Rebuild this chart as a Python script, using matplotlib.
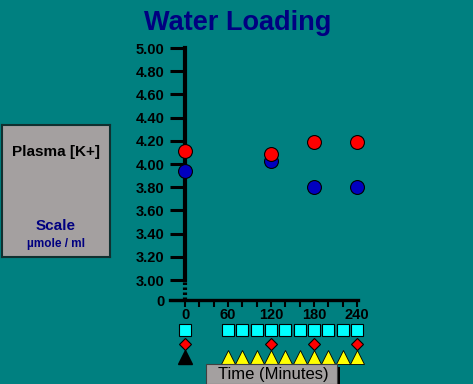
import matplotlib
matplotlib.use("Agg")
import matplotlib.pyplot as plt
from matplotlib.patches import Rectangle

# Data
times = [0, 120, 180, 240]
k_red = [4.11, 4.09, 4.19, 4.19]
k_blue = [3.94, 4.03, 3.80, 3.80]
sample_times = [0, 60, 80, 100, 120, 140, 160, 180, 200, 220, 240]
diamond_times = [0, 120, 180, 240]
start_time = [0]
yellow_times = [60, 80, 100, 120, 140, 160, 180, 200, 220, 240]
ytick_vals = [3.00, 3.20, 3.40, 3.60, 3.80, 4.00, 4.20, 4.40, 4.60, 4.80, 5.00]
xtick_vals = list(range(0, 241, 20))

BG = "#008080"
GRAY = "#a4a0a0"
NAVY = "#000080"
W, H = 473, 384

fig = plt.figure(figsize=(W / 100, H / 100), dpi=100, facecolor=BG)
plt.rcParams["font.family"] = ["Liberation Sans", "DejaVu Sans"]

# pixel <-> data mapping: x px = 185 + t*0.7167 ; y px = 164 - (v-4)*116
px_per_min = 172 / 240
px_per_unit = 116
zero_v = 4.0 - (300 - 164) / px_per_unit   # position of the "0" tick (axis break)
sq_v = 4.0 - (330 - 164) / px_per_unit
dia_v = 4.0 - (344 - 164) / px_per_unit
tri_v = 4.0 - (357 - 164) / px_per_unit

ax_l, ax_r, ax_t, ax_b = 140, 420, 36, 372
ax = fig.add_axes([ax_l / W, 1 - ax_b / H, (ax_r - ax_l) / W, (ax_b - ax_t) / H])
ax.set_facecolor("none")
ax.set_xlim((ax_l - 185) / px_per_min, (ax_r - 185) / px_per_min)
ax.set_ylim(4.0 - (ax_b - 164) / px_per_unit, 4.0 + (164 - ax_t) / px_per_unit)

for s in ["top", "right"]:
    ax.spines[s].set_visible(False)
ax.spines["left"].set_position(("data", 0))
ax.spines["left"].set_bounds(3.0, 5.0)
ax.spines["left"].set_linewidth(3)
ax.spines["bottom"].set_position(("data", zero_v))
ax.spines["bottom"].set_bounds(-21, 241)
ax.spines["bottom"].set_linewidth(2.4)
# broken segment of the y axis
ax.plot([0, 0], [zero_v, 3.0], color="black", lw=3, ls=(0, (0.6, 0.6)), clip_on=False)

ax.set_yticks([zero_v] + ytick_vals)
ax.set_yticklabels(["0"] + ["%.2f" % v for v in ytick_vals])
ax.tick_params(axis="y", direction="out", length=11, width=2.2, pad=4,
               labelsize=10.5, colors="black")
ax.set_xticks(xtick_vals)
ax.set_xticklabels([str(t) if t % 60 == 0 else "" for t in xtick_vals])
ax.tick_params(axis="x", direction="out", length=5, width=1.5, pad=1,
               labelsize=10.5, colors="black")
for lab in ax.get_yticklabels() + ax.get_xticklabels():
    lab.set_fontweight("bold")

ax.plot(times, k_blue, "o", color="#0000c0", mec="black", mew=0.8, ms=10, clip_on=False, zorder=5)
ax.plot(times, k_red, "o", color="#ff0000", mec="black", mew=0.8, ms=10, clip_on=False, zorder=6)

ax.plot(sample_times, [sq_v] * len(sample_times), "s", color="#00ffff", mec="black",
        mew=0.8, ms=9, clip_on=False)
ax.plot(diamond_times, [dia_v] * len(diamond_times), "D", color="#ff0000", mec="black",
        mew=0.8, ms=6.5, clip_on=False)
ax.plot(start_time, [tri_v], "^", color="black", mec="black", ms=9.5, clip_on=False)
ax.plot(yellow_times, [tri_v] * len(yellow_times), "^", color="#ffff00", mec="black",
        mew=0.6, ms=9.5, clip_on=False)

# title
fig.text(238 / W, 1 - 23 / H, "Water Loading", ha="center", va="center",
         fontsize=19.5, fontweight="bold", color=NAVY)

# left label box
box = fig.add_axes([2 / W, 1 - 257 / H, 108 / W, 132 / H])
box.set_facecolor(GRAY)
box.set_xticks([])
box.set_yticks([])
for s in box.spines.values():
    s.set_color("#103030")
    s.set_linewidth(1.5)
box.text(0.5, 0.795, "Plasma [K+]", ha="center", va="center", fontsize=11,
         fontweight="bold", color="black", transform=box.transAxes)
box.text(0.5, 0.235, "Scale", ha="center", va="center", fontsize=11,
         fontweight="bold", color=NAVY, transform=box.transAxes)
box.text(0.5, 0.095, "\u00b5mole / ml", ha="center", va="center", fontsize=8.5,
         fontweight="bold", color=NAVY, transform=box.transAxes)

# time label box with shadow
fig.add_artist(Rectangle((210 / W, 0), 130 / W, (H - 367) / H, transform=fig.transFigure,
                         facecolor="black", edgecolor="none"))
fig.add_artist(Rectangle((206 / W, 0), 131 / W, (H - 364) / H, transform=fig.transFigure,
                         facecolor=GRAY, edgecolor="#404040", lw=0.8))
fig.text(273 / W, 1 - 375 / H, "Time (Minutes)", ha="center", va="center",
         fontsize=12, color="black")

fig.savefig("out.png", dpi=100, facecolor=BG)
